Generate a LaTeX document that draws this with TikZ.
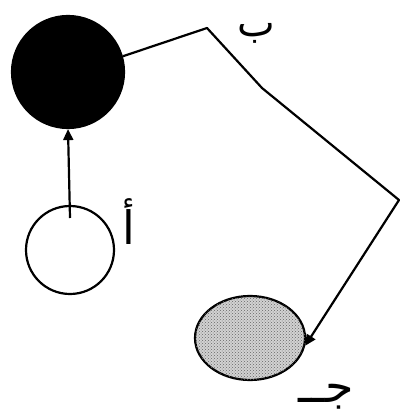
\documentclass[tikz,border=0pt]{standalone}
\usepackage{fontspec}
\newfontfamily\arabicfont[Script=Arabic]{DejaVu Sans}
\TeXXeTstate=1
\usetikzlibrary{shapes.geometric,arrows.meta,patterns}
\begin{document}
\begin{tikzpicture}[x=1pt,y=-1pt,
  edge/.style={line width=2.2pt,line join=round},
  tip/.style={-{Triangle[length=11pt,width=10pt]}},
  lbl/.style={font=\arabicfont\fontsize{46}{54}\selectfont,inner sep=0pt,anchor=base,text height=0.45em,text depth=0.2em}]
\useasboundingbox (0,0) rectangle (401,414);
\node[circle,draw,line width=2.2pt,fill=black,minimum size=112pt,inner sep=0pt] (b) at (68,72) {};
\node[circle,draw,line width=2.2pt,fill=white,minimum size=88pt,inner sep=0pt] (a) at (70,250) {};
\node[ellipse,draw,line width=2.2pt,fill=gray!35,minimum width=110pt,minimum height=84pt,inner sep=0pt,
  postaction={pattern=crosshatch dots,pattern color=gray!80!black}] (c) at (250,338) {};
\coordinate (s) at (70,218);
\coordinate (p1) at (207,28);
\coordinate (p2) at (262,88);
\coordinate (p3) at (399,200);
\draw[edge,tip] (s) -- (b.south);
\draw[edge,tip] (b.16) -- (p1) -- (p2) -- (p3) -- (c.-8);
\node[lbl,font=\arabicfont\fontsize{40}{48}\selectfont] (lb) at (256,37) {\beginR ب\endR};
\node[lbl] (la) at (129,244) {\beginR أ\endR};
\node[lbl] (lc) at (326,402) {\beginR جــ\endR};
\end{tikzpicture}
\end{document}
